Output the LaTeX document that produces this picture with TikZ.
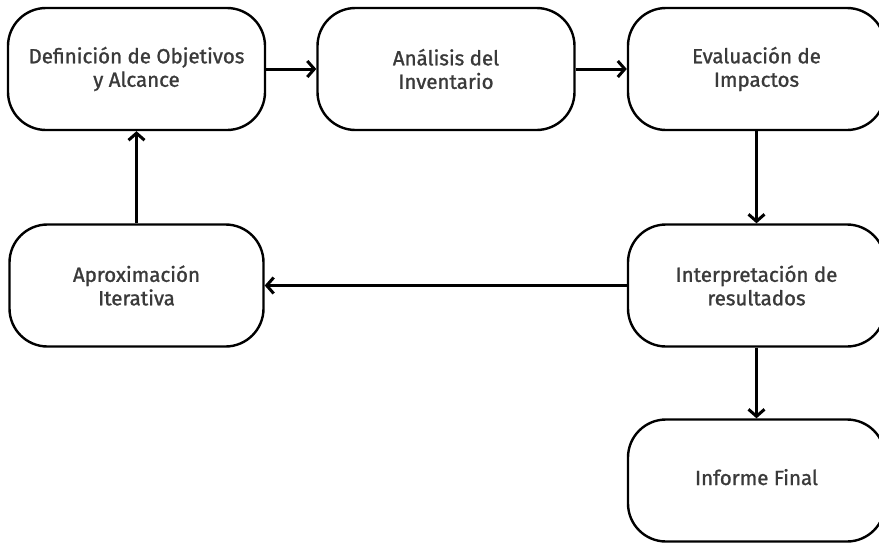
\documentclass[tikz,border=0pt]{standalone}
\usepackage{fontspec}
\setmainfont{Fira Sans}[FakeBold=1.2]
\usetikzlibrary{arrows.meta}
\definecolor{txt}{HTML}{3A3A3A}
\tikzset{
  stepbox/.style={draw=black, line width=2.4pt, rounded corners=38pt,
    minimum width=257pt, minimum height=122pt, align=center,
    text=txt, font=\fontsize{20.5}{23.5}\selectfont, inner sep=0pt},
  conn/.style={line width=3pt, -{Straight Barb[length=7pt,width=16pt,line width=3pt]}}
}
\begin{document}
\begin{tikzpicture}[x=1pt,y=-1pt]
\useasboundingbox (0,0) rectangle (879,544);
\clip (0,0) rectangle (879,544);
\fill[white] (0,0) rectangle (879,544);
\node[stepbox] (n1) at (136.5,69) {Definición de Objetivos\\y Alcance};
\node[stepbox] (n2) at (446,69) {Análisis del\\Inventario};
\node[stepbox] (n3) at (756.5,69) {Evaluación de\\Impactos};
\node[stepbox, minimum width=254pt] (n4) at (136.5,285.5) {Aproximación\\Iterativa};
\node[stepbox] (n5) at (756.5,285.5) {Interpretación de\\resultados};
\node[stepbox] (n6) at (756.5,480.5) {\raisebox{7pt}{Informe Final}};
\draw[conn] (n1) -- (n2);
\draw[conn] (n2) -- (n3);
\draw[conn] (n3) -- (n5);
\draw[conn] (n5) -- (n4);
\draw[conn] (n4) -- (n1);
\draw[conn] (n5) -- (n6);
\end{tikzpicture}
\end{document}
